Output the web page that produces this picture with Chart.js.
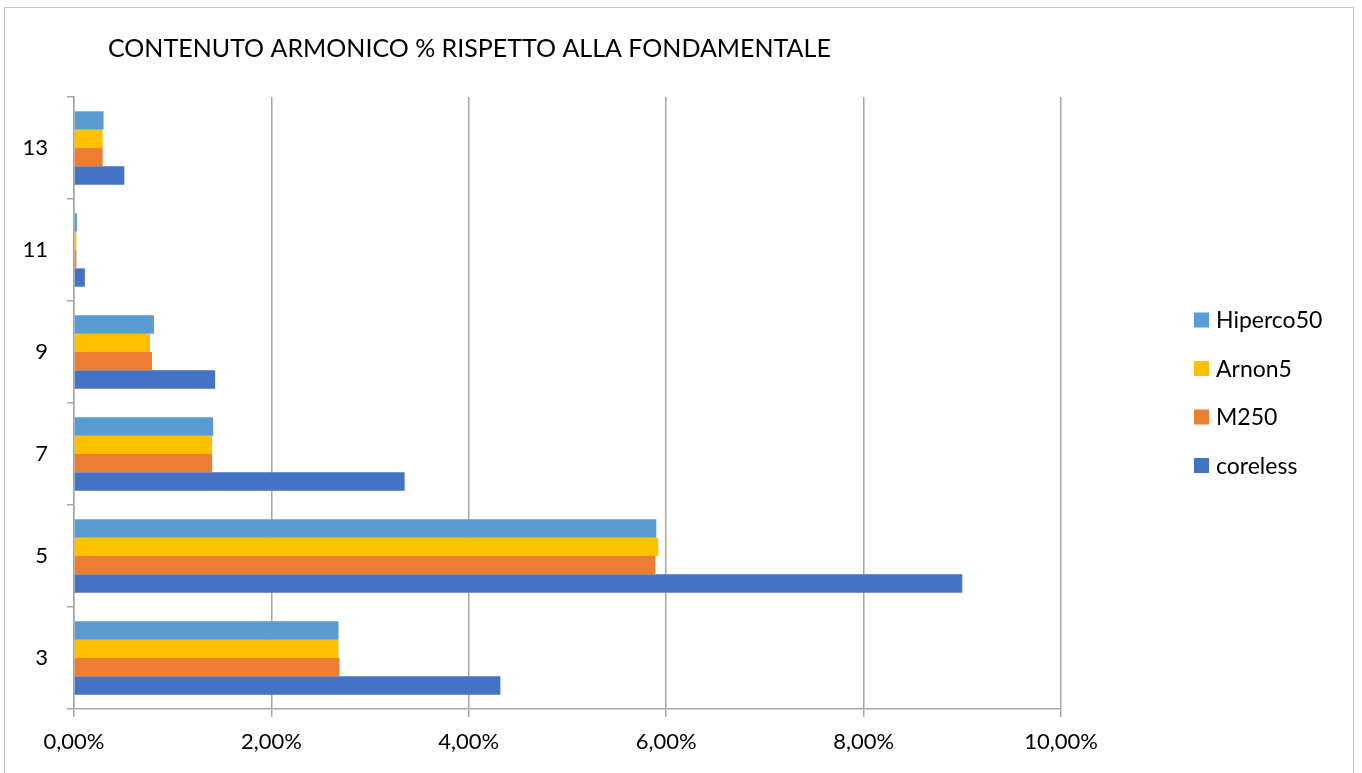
<!DOCTYPE html>
<html lang="it">
<head>
<meta charset="utf-8">
<title>Contenuto armonico</title>
<script src="https://cdn.jsdelivr.net/npm/chart.js@4/dist/chart.umd.min.js"></script>
<style>
  html, body { margin: 0; padding: 0; background: #fff; }
  #wrap { width: 1362px; height: 773px; }
</style>
</head>
<body>
<div id="wrap"><canvas id="armoniche" width="1362" height="773"></canvas></div>
<script>
// ── Dati (% rispetto alla fondamentale) ─────────────────
const HARMONICS = ["3", "5", "7", "9", "11", "13"];

const HIPERCO50 = [2.68, 5.90, 1.41, 0.81, 0.03, 0.30];
const ARNON5    = [2.68, 5.92, 1.40, 0.77, 0.025, 0.29];
const M250      = [2.69, 5.89, 1.40, 0.79, 0.024, 0.29];
const CORELESS  = [4.32, 9.00, 3.35, 1.43, 0.11, 0.51];

const X_TICKS = [0, 2, 4, 6, 8, 10];

const TITLE = "CONTENUTO ARMONICO % RISPETTO ALLA FONDAMENTALE";

// ── Stile ───────────────────────────────────────────────
const FONT = "Lato, 'Open Sans', sans-serif";
const GRID = "#a6a6a6";

Chart.defaults.font.family = FONT;
Chart.defaults.color = "#000";

// cornice esterna + titolo
const framePlugin = {
  id: "frame",
  beforeDraw(c) {
    const ctx = c.ctx;
    ctx.save();
    ctx.strokeStyle = "#c4c4c4";
    ctx.lineWidth = 1;
    ctx.strokeRect(4.5, 7.5, 1349, 800);
    ctx.restore();
  },
  afterDraw(c) {
    const ctx = c.ctx;
    ctx.save();
    ctx.fillStyle = "#000";
    ctx.font = "25px " + FONT;
    ctx.textBaseline = "alphabetic";
    ctx.textAlign = "left";
    ctx.fillText(TITLE, 108, 57);
    ctx.restore();
  },
};

// legenda a destra, stessa sequenza dei dataset
const legendPlugin = {
  id: "sideLegend",
  afterDraw(c) {
    const ctx = c.ctx;
    ctx.save();
    ctx.font = "23px " + FONT;
    ctx.textBaseline = "middle";
    ctx.textAlign = "left";
    c.data.datasets.forEach((ds, i) => {
      const y = 320 + i * 48.5;
      ctx.fillStyle = ds.backgroundColor;
      ctx.fillRect(1194, y - 7.5, 15, 15);
      ctx.fillStyle = "#000";
      ctx.fillText(ds.label, 1216, y + 1);
    });
    ctx.restore();
  },
};

const pct = (v) => v.toFixed(2).replace(".", ",") + "%";

new Chart(document.getElementById("armoniche"), {
  type: "bar",
  plugins: [framePlugin, legendPlugin],
  data: {
    labels: HARMONICS,
    datasets: [
      { label: "Hiperco50", data: HIPERCO50, backgroundColor: "#5b9bd5" },
      { label: "Arnon5",    data: ARNON5,    backgroundColor: "#ffc000" },
      { label: "M250",      data: M250,      backgroundColor: "#ed7d31" },
      { label: "coreless",  data: CORELESS,  backgroundColor: "#4472c4" },
    ],
  },
  options: {
    indexAxis: "y",
    responsive: false,
    animation: false,
    layout: { padding: { top: 97, right: 301, bottom: 14, left: 0 } },
    datasets: {
      bar: { categoryPercentage: 0.72, barPercentage: 1.0, borderWidth: 0 },
    },
    plugins: {
      legend: { display: false },
      title: { display: false },
      tooltip: { enabled: false },
    },
    scales: {
      x: {
        min: 0,
        max: 10,
        afterBuildTicks: (s) => { s.ticks = X_TICKS.map((v) => ({ value: v })); },
        afterFit: (s) => { s.height = 50; },
        grid: { color: GRID, lineWidth: 1.5, tickLength: 8 },
        border: { color: GRID, width: 1.5 },
        ticks: { font: { size: 22 }, padding: 12, callback: (v) => pct(v) },
      },
      y: {
        reverse: true,
        afterFit: (s) => { s.width = 74; },
        grid: { offset: true, drawOnChartArea: false, color: GRID, lineWidth: 1.5, tickLength: 7 },
        border: { color: GRID, width: 1.5 },
        ticks: { font: { size: 22 }, padding: 19 },
      },
    },
  },
});
</script>
</body>
</html>
